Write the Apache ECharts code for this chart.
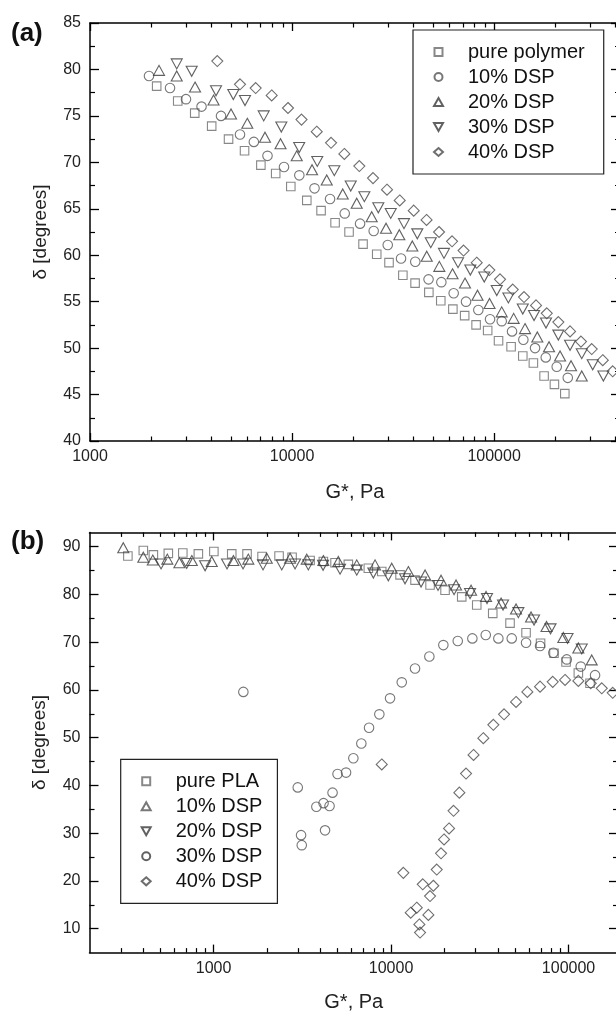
<!DOCTYPE html>
<html><head><meta charset="utf-8">
<script src="https://cdn.jsdelivr.net/npm/echarts@6/dist/echarts.min.js"></script>
<style>html,body{margin:0;padding:0;background:#fff}#c{width:616px;height:1012px}</style>
</head><body><div id="c"></div>
<script>
// ---------- Panel (a) data: G* (Pa) and delta (degrees) ----------
const gA_pure = [2138, 2718, 3299, 4002, 4850, 5820, 7010, 8300, 9860, 11830, 13920, 16330, 19150, 22460, 26250, 30200, 35360, 40640, 47550, 54470, 62520, 71520, 81470, 92950, 105200, 121400, 138700, 156500, 176800, 198900, 223900];
const dA_pure = [78.2, 76.6, 75.3, 73.9, 72.5, 71.25, 69.7, 68.8, 67.4, 65.9, 64.8, 63.5, 62.5, 61.2, 60.1, 59.2, 57.85, 57.0, 56.0, 55.1, 54.2, 53.5, 52.5, 51.9, 50.8, 50.15, 49.15, 48.4, 47.0, 46.1, 45.1];
const gA_10 = [1959, 2489, 2986, 3565, 4451, 5526, 6471, 7560, 9125, 10865, 12920, 15420, 18230, 21710, 25360, 29760, 34630, 40730, 47380, 54830, 63100, 72630, 83560, 95500, 109100, 122700, 139600, 159500, 180200, 204200, 231600];
const dA_10 = [79.3, 78.0, 76.8, 76.0, 75.0, 73.0, 72.2, 70.7, 69.5, 68.6, 67.2, 66.05, 64.5, 63.4, 62.6, 61.1, 59.65, 59.3, 57.4, 57.1, 55.9, 55.0, 54.1, 53.1, 52.9, 51.8, 50.9, 50.0, 49.0, 48.0, 46.8];
const gA_20 = [2196, 2687, 3311, 4087, 4989, 6006, 7347, 8770, 10550, 12560, 14850, 17820, 20900, 24790, 29190, 33960, 39380, 46420, 53580, 62280, 71800, 82800, 94950, 109100, 125000, 142300, 163700, 187100, 212100, 240400, 271600];
const dA_20 = [79.9, 79.3, 78.1, 76.7, 75.2, 74.2, 72.7, 72.0, 70.7, 69.2, 68.1, 66.6, 65.6, 64.15, 62.9, 62.2, 61.0, 59.9, 58.8, 58.0, 57.0, 55.7, 54.8, 53.9, 53.2, 52.1, 51.2, 50.15, 49.15, 48.1, 47.0];
const gA_30 = [2687, 3187, 4205, 5120, 5850, 7240, 8850, 10850, 13330, 16190, 19520, 22800, 26730, 30800, 35820, 41690, 48600, 56500, 66320, 76300, 89400, 103100, 117700, 138700, 157700, 180700, 208000, 237700, 271600, 307700, 347500];
const dA_30 = [80.6, 79.8, 77.7, 77.3, 76.65, 75.0, 73.8, 71.6, 70.1, 69.1, 67.45, 66.3, 65.1, 64.5, 63.4, 62.3, 61.35, 60.2, 59.2, 58.4, 57.65, 56.2, 55.4, 54.2, 53.5, 52.7, 51.4, 50.3, 49.4, 48.2, 47.0];
const gA_40 = [4266, 5526, 6607, 7930, 9550, 11140, 13250, 15600, 18150, 21530, 25170, 29510, 34120, 40020, 46320, 53410, 61940, 70630, 82050, 94740, 107000, 123700, 140700, 161300, 182300, 208000, 237700, 269200, 304300, 345100, 386400];
const dA_40 = [80.9, 78.4, 78.0, 77.2, 75.85, 74.6, 73.3, 72.1, 70.9, 69.6, 68.3, 67.05, 65.9, 64.8, 63.8, 62.5, 61.5, 60.5, 59.2, 58.4, 57.4, 56.3, 55.5, 54.6, 53.75, 52.8, 51.8, 50.7, 49.9, 48.7, 47.5];

// ---------- Panel (b) data ----------
const gB_pure = [329, 402, 458, 556, 671, 821, 1004, 1266, 1544, 1876, 2339, 2769, 3498, 4156, 4836, 5747, 7448, 8865, 11240, 13650, 16590, 20150, 25020, 30400, 37410, 46820, 57640, 69570, 82800, 96830, 113600, 132200];
const dB_pure = [88.05, 89.2, 88.3, 88.6, 88.7, 88.5, 89.0, 88.5, 88.5, 87.95, 88.05, 87.8, 87.1, 86.9, 86.65, 86.3, 85.5, 84.8, 84.1, 83.0, 82.0, 80.9, 79.5, 77.8, 76.05, 74.0, 72.0, 69.8, 67.7, 65.85, 63.55, 61.4];
const gB_10 = [310, 402, 454.5, 549, 642, 754, 977, 1293, 1570, 1994, 2698, 3350, 4156, 5047, 6410, 8128, 10090, 12520, 15550, 19130, 23240, 28240, 34300, 41680, 50620, 61500, 75160, 93500, 113600, 135100];
const dB_10 = [89.8, 87.8, 87.2, 87.4, 86.65, 87.1, 86.9, 87.1, 87.4, 87.6, 87.6, 87.4, 87.1, 86.9, 86.2, 86.2, 85.5, 84.8, 84.1, 83.0, 82.0, 80.9, 79.6, 78.2, 76.95, 75.3, 73.3, 71.0, 68.8, 66.3];
const gB_20 = [506, 706, 896, 1191, 1466, 1900, 2422, 2879, 3420, 4140, 5161, 6410, 7950, 9656, 11990, 14760, 18400, 22650, 27870, 34740, 42760, 52160, 63930, 79170, 98720, 118700];
const dB_20 = [86.4, 86.5, 86.0, 86.4, 86.4, 86.2, 86.2, 86.4, 86.2, 86.1, 85.3, 85.1, 84.5, 83.9, 83.3, 82.6, 81.9, 81.0, 80.2, 79.15, 77.8, 76.2, 74.65, 72.8, 70.8, 68.6];
const gB_30 = [1472, 2981, 3112, 3140, 3795, 4166, 4503, 4248, 4682, 4995, 5579, 6133, 6802, 7518, 8592, 9872, 11490, 13650, 16440, 19710, 23760, 28720, 34170, 40240, 47860, 57640, 69120, 82120, 97730, 117200, 141100];
const dB_30 = [59.6, 39.6, 29.6, 27.5, 35.55, 36.3, 35.7, 30.6, 38.5, 42.4, 42.7, 45.7, 48.8, 52.1, 54.9, 58.25, 61.6, 64.5, 67.0, 69.4, 70.25, 70.8, 71.5, 70.8, 70.8, 69.9, 69.2, 67.8, 66.4, 64.9, 63.1];
const gB_40 = [8865, 11730, 12910, 13960, 14440, 14570, 15090, 16230, 16590, 17310, 18090, 19130, 19890, 21230, 22500, 24260, 26460, 29160, 33110, 37710, 43320, 50620, 58610, 69120, 81470, 95590, 113600, 133400, 153900, 177400];
const dB_40 = [44.4, 21.7, 13.35, 14.4, 10.9, 9.2, 19.3, 12.9, 16.85, 19.0, 22.4, 25.8, 28.7, 31.0, 34.7, 38.5, 42.5, 46.4, 49.9, 52.7, 54.9, 57.5, 59.6, 60.7, 61.7, 62.1, 61.9, 61.4, 60.35, 59.4];

// ---------- Tick values ----------
const xMajorA = [1000, 10000, 100000];
const xMinorA = [2000, 3000, 4000, 5000, 6000, 7000, 8000, 9000, 20000, 30000, 40000, 50000, 60000, 70000, 80000, 90000, 200000, 300000, 400000];
const xMajorB = [1000, 10000, 100000];
const xMinorB = [300, 400, 500, 600, 700, 800, 900, 2000, 3000, 4000, 5000, 6000, 7000, 8000, 9000, 20000, 30000, 40000, 50000, 60000, 70000, 80000, 90000];
const yMajorA = [40, 45, 50, 55, 60, 65, 70, 75, 80, 85];
const yMinorA = [42.5, 47.5, 52.5, 57.5, 62.5, 67.5, 72.5, 77.5, 82.5];
const yMajorB = [10, 20, 30, 40, 50, 60, 70, 80, 90];
const yMinorB = [15, 25, 35, 45, 55, 65, 75, 85];

const namesA = ['pure polymer', '10% DSP', '20% DSP', '30% DSP', '40% DSP'];
const namesB = ['pure PLA', '10% DSP', '20% DSP', '30% DSP', '40% DSP'];

const FONT = '"Liberation Sans", Arial, Helvetica, sans-serif';
const INV_TRI = 'path://M0,0L10,0L5,8.7Z';
// legend icons: 49x8 box (anchor moves) with the glyph centred in it
const BOX = 'M0,0M49,8';
const ICON = {
  square: 'path://' + BOX + 'M20.5,0L28.5,0L28.5,8L20.5,8Z',
  circle: 'circle',
  tri: 'path://' + BOX + 'M24.5,0L29,8L20,8Z',
  inv: 'path://' + BOX + 'M20,0L29,0L24.5,8Z',
  diamond: 'path://' + BOX + 'M24.5,0L29,4L24.5,8L20,4Z'
};
const SYM = {
  square: {symbol: 'rect', symbolSize: 8.5, color: '#6a6a6a'},
  circle: {symbol: 'circle', symbolSize: 9.5, color: '#555'},
  tri: {symbol: 'triangle', symbolSize: [11, 10], color: '#3a3a3a'},
  inv: {symbol: INV_TRI, symbolSize: [11, 10], color: '#3a3a3a'},
  diamond: {symbol: 'diamond', symbolSize: [11, 11], color: '#4a4a4a'}
};

function zip(g, d) { return g.map((v, i) => [v, d[i]]); }
function scatter(name, g, d, s, xi, yi) {
  return {
    type: 'scatter', name, xAxisIndex: xi, yAxisIndex: yi,
    data: zip(g, d), symbol: s.symbol, symbolSize: s.symbolSize,
    itemStyle: {color: 'rgba(0,0,0,0)', borderColor: s.color, borderWidth: 1.1},
    emphasis: {disabled: true}, silent: true
  };
}

const axisLineStyle = {show: true, onZero: false, lineStyle: {color: '#000', width: 1.5}};
function xAxesFor(gi, min, max, major, minor, gap) {
  const base = {type: 'log', logBase: 10, gridIndex: gi, min, max, splitLine: {show: false}, minorTick: {show: false}};
  return [
    Object.assign({}, base, {position: 'bottom', axisLine: axisLineStyle,
      axisTick: {show: true, inside: true, length: 8, customValues: major, lineStyle: {color: '#000', width: 1.3}},
      axisLabel: {show: true, customValues: major, formatter: v => String(Math.round(v)), fontSize: 16, color: '#222', fontFamily: FONT, margin: 8},
      name: 'G*, Pa', nameLocation: 'middle', nameGap: gap, nameTextStyle: {fontSize: 20, color: '#222', fontFamily: FONT}}),
    Object.assign({}, base, {position: 'bottom', axisLine: {show: false, onZero: false},
      axisTick: {show: true, inside: true, length: 4.5, customValues: minor, lineStyle: {color: '#000', width: 1.2}},
      axisLabel: {show: false}}),
    Object.assign({}, base, {position: 'top', axisLine: axisLineStyle,
      axisTick: {show: true, inside: true, length: 8, customValues: major, lineStyle: {color: '#000', width: 1.3}},
      axisLabel: {show: false}}),
    Object.assign({}, base, {position: 'top', axisLine: {show: false, onZero: false},
      axisTick: {show: true, inside: true, length: 4.5, customValues: minor, lineStyle: {color: '#000', width: 1.2}},
      axisLabel: {show: false}})
  ];
}
function yAxesFor(gi, min, max, major, minor, gap) {
  const base = {type: 'value', gridIndex: gi, min, max, splitLine: {show: false}, minorTick: {show: false}};
  return [
    Object.assign({}, base, {position: 'left', axisLine: axisLineStyle,
      axisTick: {show: true, inside: true, length: 9, customValues: major, lineStyle: {color: '#000', width: 1.3}},
      axisLabel: {show: true, customValues: major, fontSize: 16, color: '#222', fontFamily: FONT, margin: 9},
      name: 'δ [degrees]', nameLocation: 'middle', nameGap: gap, nameTextStyle: {fontSize: 19, color: '#222', fontFamily: FONT}}),
    Object.assign({}, base, {position: 'left', axisLine: {show: false, onZero: false},
      axisTick: {show: true, inside: true, length: 5, customValues: minor, lineStyle: {color: '#000', width: 1.2}},
      axisLabel: {show: false}}),
    Object.assign({}, base, {position: 'right', axisLine: axisLineStyle,
      axisTick: {show: true, inside: true, length: 9, customValues: major, lineStyle: {color: '#000', width: 1.3}},
      axisLabel: {show: false}}),
    Object.assign({}, base, {position: 'right', axisLine: {show: false, onZero: false},
      axisTick: {show: true, inside: true, length: 5, customValues: minor, lineStyle: {color: '#000', width: 1.2}},
      axisLabel: {show: false}})
  ];
}

function legendFor(left, top, padRight, items) {
  return {
    orient: 'vertical', left, top, padding: [12, padRight, 12, 0],
    itemWidth: 49, itemHeight: 8, itemGap: 5, symbolRotate: 0, symbolKeepAspect: false,
    borderColor: '#222', borderWidth: 1.2, backgroundColor: '#fff',
    selectedMode: false,
    textStyle: {fontSize: 20, color: '#111', lineHeight: 20, fontFamily: FONT},
    data: items
  };
}

const option = {
  animation: false,
  backgroundColor: '#fff',
  textStyle: {fontFamily: FONT},
  title: [
    {text: '(a)', left: 11, top: 21, padding: 0, textStyle: {fontSize: 26, fontWeight: 'bold', color: '#111', fontFamily: FONT}},
    {text: '(b)', left: 11, top: 529, padding: 0, textStyle: {fontSize: 26, fontWeight: 'bold', color: '#111', fontFamily: FONT}}
  ],
  grid: [
    {left: 90, top: 23, width: 530, height: 418, containLabel: false, outerBoundsMode: 'none'},
    {left: 89.5, top: 532.4, width: 528.5, height: 420.2, containLabel: false, outerBoundsMode: 'none'}
  ],
  xAxis: xAxesFor(0, 1000, 420000, xMajorA, xMinorA, 41).concat(xAxesFor(1, 200, 190000, xMajorB, xMinorB, 40)),
  yAxis: yAxesFor(0, 40, 85, yMajorA, yMinorA, 40).concat(yAxesFor(1, 5, 93, yMajorB, yMinorB, 40)),
  legend: [
    legendFor(413, 30, 19, [
      {name: namesA[0], icon: ICON.square},
      {name: namesA[1], icon: ICON.circle},
      {name: namesA[2], icon: ICON.tri},
      {name: namesA[3], icon: ICON.inv},
      {name: namesA[4], icon: ICON.diamond}
    ]),
    legendFor(120.7, 759.3, 15, [
      {name: namesB[0], icon: ICON.square},
      {name: namesB[1], icon: ICON.tri},
      {name: namesB[2], icon: ICON.inv},
      {name: namesB[3], icon: ICON.circle},
      {name: namesB[4], icon: ICON.diamond}
    ])
  ],
  series: [
    scatter(namesA[0], gA_pure, dA_pure, SYM.square, 0, 0),
    scatter(namesA[1], gA_10, dA_10, SYM.circle, 0, 0),
    scatter(namesA[2], gA_20, dA_20, SYM.tri, 0, 0),
    scatter(namesA[3], gA_30, dA_30, SYM.inv, 0, 0),
    scatter(namesA[4], gA_40, dA_40, SYM.diamond, 0, 0),
    scatter(namesB[0], gB_pure, dB_pure, SYM.square, 4, 4),
    scatter(namesB[1], gB_10, dB_10, SYM.tri, 4, 4),
    scatter(namesB[2], gB_20, dB_20, SYM.inv, 4, 4),
    scatter(namesB[3], gB_30, dB_30, SYM.circle, 4, 4),
    scatter(namesB[4], gB_40, dB_40, SYM.diamond, 4, 4)
  ]
};
const chart = echarts.init(document.getElementById('c'), null, {renderer: 'canvas'});
chart.setOption(option);
</script></body></html>
